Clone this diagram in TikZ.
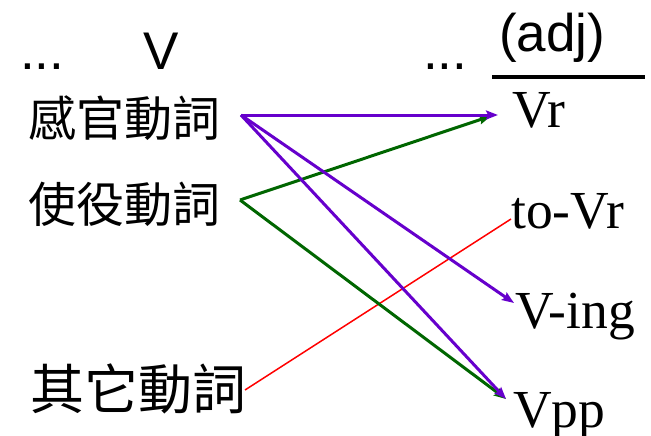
\documentclass[tikz,border=0pt]{standalone}
\usepackage{fontspec}
\setmainfont{Liberation Serif}
\setsansfont{Liberation Sans}
\newfontfamily\cjkfont{Noto Sans CJK TC}
\usetikzlibrary{arrows.meta}
\definecolor{vpurple}{RGB}{102,0,204}
\definecolor{vgreen}{RGB}{0,102,0}
\definecolor{vred}{RGB}{255,0,0}
\tikzset{
  lbl/.style={inner sep=0pt, anchor=base west, font=\fontsize{53.5}{60}\selectfont},
  sanslbl/.style={inner sep=0pt, anchor=base west, font=\sffamily\fontsize{53}{60}\selectfont},
  cjk/.style={inner sep=0pt, anchor=west, font=\cjkfont\fontsize{48}{56}\selectfont},
  cjkbig/.style={inner sep=0pt, anchor=west, font=\cjkfont\fontsize{54}{60}\selectfont},
  tip/.style={-{Stealth[length=12pt,width=9pt,inset=2pt]}},
  purplearrow/.style={tip, draw=vpurple, fill=vpurple, line width=3pt},
  greenarrow/.style={tip, draw=vgreen, fill=vgreen, line width=3pt},
  redline/.style={draw=vred, line width=1.5pt},
}
\begin{document}
\begin{tikzpicture}[x=1pt,y=-1pt]
\useasboundingbox (0,0) rectangle (651,436);
% headers
\node[sanslbl] (ldots) at (20,70) {...};
\node[sanslbl] (vhead) at (143,70) {V};
\node[sanslbl] (rdots) at (423,70) {...};
\node[sanslbl] (adj) at (499,52) {(adj)};
\coordinate (barL) at (492,77);
\coordinate (barR) at (645,77);
\draw[line width=4pt] (barL) -- (barR);
% left nodes
\node[cjk] (sense) at (28,118) {感官動詞};
\node[cjk] (cause) at (28,204) {使役動詞};
\node[cjkbig] (other) at (30,389) {其它動詞};
% right nodes
\node[lbl] (vr) at (512,128) {Vr};
\node[lbl] (tovr) at (511,228) {to-Vr};
\node[lbl] (ving) at (515,328) {V-ing};
\node[lbl] (vpp) at (513,427) {Vpp};
% connector ends
\coordinate (sO) at (241,115);
\coordinate (cO) at (240,200);
\coordinate (oO) at (245,390);
\coordinate (vrP) at (498,115);
\coordinate (vrG) at (491,116);
\coordinate (tovrIn) at (511,219);
\coordinate (vingIn) at (514,303);
\coordinate (vppIn) at (506,399);
% connectors
\draw[redline] (oO) -- (tovrIn);
\draw[greenarrow] (cO) -- (vrG);
\draw[greenarrow] (cO) -- (vppIn);
\draw[purplearrow] (sO) -- (vrP);
\draw[purplearrow] (sO) -- (vingIn);
\draw[purplearrow] (sO) -- (vppIn);
\end{tikzpicture}
\end{document}
